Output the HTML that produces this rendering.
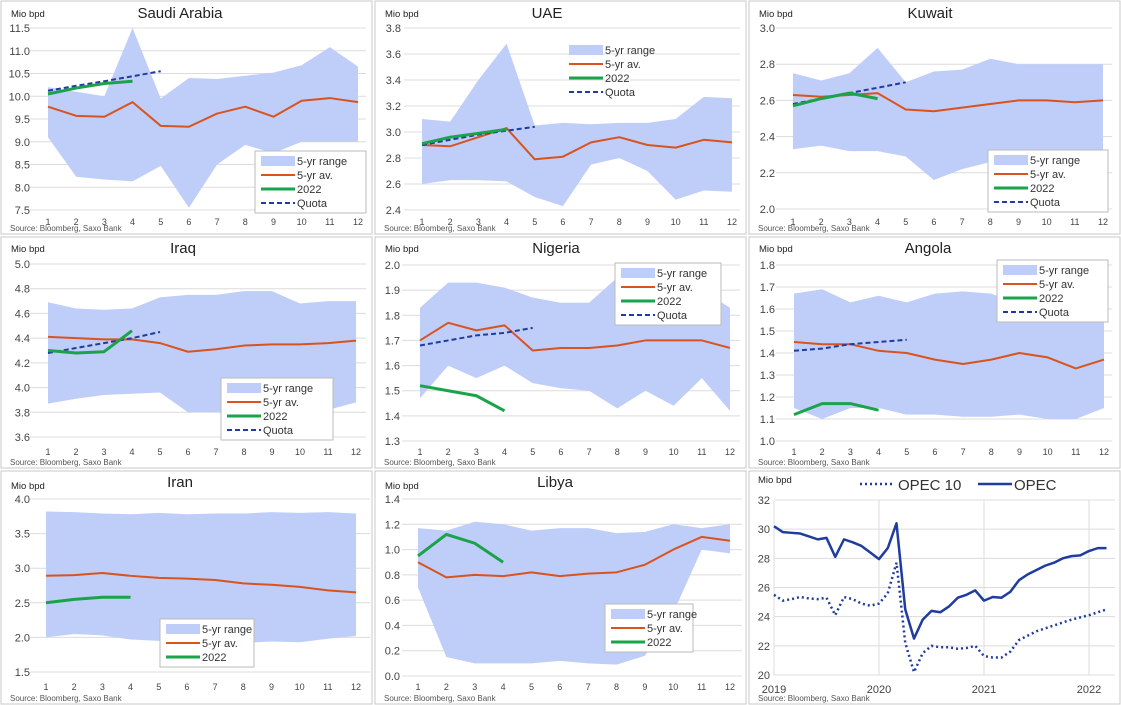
<!DOCTYPE html>
<html><head><meta charset="utf-8"><style>
body{margin:0;background:#fff;width:1121px;height:705px;overflow:hidden;font-family:"Liberation Sans",sans-serif}
svg{display:block}
</style></head><body>
<svg id="s" width="1121" height="705" xmlns="http://www.w3.org/2000/svg" font-family="Liberation Sans, sans-serif"></svg>
<script>
const S=document.getElementById('s');let h='';
const FILL='#bfcdf9',OR='#d9531e',GR='#1aa34a',NV='#1f3c9e';
[[1,1,371,233],[375,1,371,233],[749,1,371,233],[1,237,371,231],[375,237,371,231],[749,237,371,231],[1,471,371,233],[375,471,371,233],[749,471,371,233]].forEach(r=>{h+=`<rect x="${r[0]}" y="${r[1]}" width="${r[2]}" height="${r[3]}" fill="none" stroke="#c8c8c8"/>`});
function panel(p){
 const X=i=>p.x1+(i-1)*(p.x12-p.x1)/11;
 const Y=v=>p.yt+(p.vt-v)*(p.yb-p.yt)/(p.vt-p.vb);
 for(let v=p.vb;v<=p.vt+1e-9;v+=p.step){const y=Y(v);h+=`<line x1="${p.gx0}" x2="${p.gx1}" y1="${y}" y2="${y}" stroke="#dcdcdc"/>`;
 h+=`<text x="${p.lx}" y="${y+4}" font-size="11" fill="#444" text-anchor="end">${v.toFixed(1)}</text>`;}
 for(let i=1;i<=12;i++)h+=`<text x="${X(i)}" y="${p.ty}" font-size="9" fill="#444" text-anchor="middle">${i}</text>`;
 let pts=p.up.map((v,i)=>X(i+1)+','+Y(v)).concat(p.lo.map((v,i)=>[X(i+1),Y(v)]).reverse().map(a=>a.join(',')));
 h+=`<polygon points="${pts.join(' ')}" fill="${FILL}"/>`;
 const line=(arr,c,w,d)=>{h+=`<polyline points="${arr.map((v,i)=>X(i+1)+','+Y(v)).join(' ')}" fill="none" stroke="${c}" stroke-width="${w}" ${d?'stroke-dasharray="'+d+'"':''} stroke-linejoin="round"/>`};
 line(p.av,OR,2);
 if(p.q)line(p.q,NV,2,'5,3');
 line(p.g,GR,3);
 h+=`<text x="${p.tx}" y="${p.tty}" font-size="15" fill="#222" text-anchor="middle">${p.t}</text>`;
 h+=`<text x="${p.mx}" y="${p.my}" font-size="9.5" fill="#222">Mio bpd</text>`;
 h+=`<text x="${p.mx-1}" y="${p.sy}" font-size="8" fill="#555">Source:  Bloomberg, Saxo Bank</text>`;
 const L=p.L;const n=p.q?4:3;
 if(L.b)h+=`<rect x="${L.x}" y="${L.y}" width="${L.w}" height="${n*14+6}" fill="#fff" stroke="#bbb"/>`;
 const items=[['5-yr range','r'],['5-yr av.',OR],['2022',GR],['Quota','q']].slice(0,n);
 items.forEach((it,k)=>{const yy=L.y+10+k*14;const sx=L.x+6;
  if(it[1]=='r')h+=`<rect x="${sx}" y="${yy-5}" width="34" height="10" fill="${FILL}"/>`;
  else if(it[1]=='q')h+=`<line x1="${sx}" x2="${sx+34}" y1="${yy}" y2="${yy}" stroke="${NV}" stroke-width="2" stroke-dasharray="5,3"/>`;
  else h+=`<line x1="${sx}" x2="${sx+34}" y1="${yy}" y2="${yy}" stroke="${it[1]}" stroke-width="${it[1]==GR?3:2}"/>`;
  h+=`<text x="${sx+36}" y="${yy+4}" font-size="11" fill="#333">${it[0]}</text>`;});
}
const r1={ty:225,tty:18,my:17,sy:231},r2={ty:455,tty:253,my:252,sy:465},r3={ty:690,tty:487,my:489,sy:701};
panel(Object.assign({t:'Saudi Arabia',tx:180,mx:11,x1:48,x12:358,yt:28,vt:11.5,yb:210,vb:7.5,step:0.5,gx0:30,gx1:366,lx:30,
 up:[10.2,10.1,10.0,11.5,9.95,10.4,10.38,10.45,10.52,10.68,11.08,10.65],lo:[9.1,8.23,8.17,8.13,8.47,7.55,8.5,8.93,8.75,9.0,9.0,9.0],
 av:[9.77,9.57,9.55,9.87,9.35,9.33,9.62,9.77,9.55,9.9,9.96,9.87],g:[10.05,10.18,10.28,10.33],q:[10.12,10.23,10.33,10.44,10.55],
 L:{x:255,y:151,w:111,b:1}},r1));
panel(Object.assign({t:'UAE',tx:547,mx:385,x1:422,x12:732,yt:28,vt:3.8,yb:210,vb:2.4,step:0.2,gx0:404,gx1:740,lx:401,
 up:[3.1,3.08,3.4,3.68,3.05,3.07,3.06,3.07,3.07,3.1,3.27,3.26],lo:[2.6,2.63,2.63,2.62,2.5,2.43,2.75,2.8,2.7,2.48,2.55,2.54],
 av:[2.9,2.89,2.96,3.03,2.79,2.81,2.92,2.96,2.9,2.88,2.94,2.92],g:[2.91,2.96,2.99,3.02],q:[2.9,2.94,2.98,3.01,3.04],
 L:{x:563,y:40,w:105,b:0}},r1));
panel(Object.assign({t:'Kuwait',tx:930,mx:759,x1:793,x12:1103,yt:28,vt:3.0,yb:209,vb:2.0,step:0.2,gx0:776,gx1:1112,lx:775,
 up:[2.75,2.71,2.75,2.89,2.7,2.76,2.77,2.83,2.8,2.8,2.8,2.8],lo:[2.33,2.35,2.32,2.32,2.29,2.16,2.22,2.26,2.24,2.2,2.26,2.27],
 av:[2.63,2.62,2.63,2.64,2.55,2.54,2.56,2.58,2.6,2.6,2.59,2.6],g:[2.57,2.61,2.64,2.61],q:[2.58,2.61,2.64,2.67,2.7],
 L:{x:988,y:150,w:120,b:1}},r1));
panel(Object.assign({t:'Iraq',tx:183,mx:11,x1:48,x12:356,yt:264,vt:5.0,yb:437,vb:3.6,step:0.2,gx0:30,gx1:366,lx:30,
 up:[4.69,4.64,4.63,4.64,4.73,4.75,4.75,4.78,4.78,4.68,4.7,4.7],lo:[3.87,3.91,3.94,3.95,3.96,3.8,3.8,3.78,3.8,3.8,3.82,3.88],
 av:[4.41,4.4,4.39,4.39,4.36,4.29,4.31,4.34,4.35,4.35,4.36,4.38],g:[4.3,4.28,4.29,4.46],q:[4.28,4.32,4.36,4.4,4.45],
 L:{x:221,y:378,w:112,b:1}},r2));
panel(Object.assign({t:'Nigeria',tx:556,mx:385,x1:420,x12:730,yt:265,vt:2.0,yb:441,vb:1.3,step:0.1,gx0:402,gx1:740,lx:400,
 up:[1.83,1.93,1.93,1.91,1.87,1.85,1.85,1.95,1.95,1.9,1.9,1.83],lo:[1.47,1.6,1.55,1.6,1.53,1.51,1.5,1.43,1.5,1.44,1.55,1.42],
 av:[1.7,1.77,1.74,1.76,1.66,1.67,1.67,1.68,1.7,1.7,1.7,1.67],g:[1.52,1.5,1.48,1.42],q:[1.68,1.7,1.72,1.73,1.75],
 L:{x:615,y:263,w:106,b:1}},r2));
panel(Object.assign({t:'Angola',tx:928,mx:759,x1:794,x12:1104,yt:265,vt:1.8,yb:441,vb:1.0,step:0.1,gx0:776,gx1:1112,lx:775,
 up:[1.67,1.69,1.63,1.66,1.63,1.67,1.68,1.67,1.62,1.62,1.6,1.55],lo:[1.15,1.1,1.15,1.15,1.12,1.12,1.11,1.11,1.12,1.1,1.1,1.15],
 av:[1.45,1.44,1.44,1.41,1.4,1.37,1.35,1.37,1.4,1.38,1.33,1.37],g:[1.12,1.17,1.17,1.14],q:[1.41,1.42,1.44,1.45,1.46],
 L:{x:997,y:260,w:111,b:1}},r2));
panel(Object.assign({t:'Iran',tx:180,mx:11,x1:46,x12:356,yt:499,vt:4.0,yb:672,vb:1.5,step:0.5,gx0:30,gx1:370,lx:30,
 up:[3.82,3.81,3.79,3.78,3.8,3.78,3.79,3.79,3.81,3.8,3.81,3.79],lo:[2.0,2.05,2.03,1.97,1.95,1.95,1.93,1.92,1.94,1.93,1.98,2.02],
 av:[2.89,2.9,2.93,2.89,2.86,2.85,2.83,2.78,2.76,2.73,2.68,2.65],g:[2.5,2.55,2.58,2.58],
 L:{x:160,y:619,w:94,b:1}},r3));
panel(Object.assign({t:'Libya',tx:555,mx:385,x1:418,x12:730,yt:499,vt:1.4,yb:676,vb:0.0,step:0.2,gx0:402,gx1:742,lx:400,
 up:[1.17,1.15,1.22,1.2,1.15,1.17,1.17,1.13,1.14,1.2,1.17,1.2],lo:[0.7,0.15,0.1,0.1,0.1,0.12,0.1,0.09,0.16,0.5,1.0,0.97],
 av:[0.9,0.78,0.8,0.79,0.82,0.79,0.81,0.82,0.88,1.0,1.1,1.07],g:[0.95,1.12,1.05,0.9],
 L:{x:605,y:604,w:88,b:1}},r3));
{const X=i=>774+i*8.75,Y=v=>500+(32-v)*(175/12);
 for(let v=20;v<=32;v+=2){h+=`<line x1="774" x2="1115" y1="${Y(v)}" y2="${Y(v)}" stroke="#dcdcdc"/><text x="770" y="${Y(v)+4}" font-size="11" fill="#444" text-anchor="end">${v}</text>`;}
 [0,12,24,36].forEach((m,k)=>{h+=`<line x1="${X(m)}" x2="${X(m)}" y1="500" y2="675" stroke="#dcdcdc"/><text x="${X(m)}" y="693" font-size="11" fill="#444" text-anchor="middle">${2019+k}</text>`;});
 const o=[30.2,29.8,29.75,29.7,29.5,29.3,29.4,28.1,29.3,29.1,28.85,28.4,27.95,28.7,30.4,24.5,22.5,23.8,24.4,24.3,24.7,25.3,25.5,25.8,25.1,25.35,25.3,25.7,26.5,26.9,27.2,27.5,27.7,28.0,28.15,28.2,28.5,28.7,28.7];
 const o10=[25.5,25.1,25.2,25.35,25.25,25.2,25.3,24.1,25.35,25.2,24.9,24.75,24.9,25.6,27.7,22.2,20.2,21.5,22.0,21.9,21.9,21.8,21.85,22.0,21.3,21.2,21.2,21.6,22.4,22.7,23.0,23.2,23.4,23.6,23.8,23.95,24.1,24.3,24.5];
 h+=`<polyline points="${o10.map((v,i)=>X(i)+','+Y(v)).join(' ')}" fill="none" stroke="${NV}" stroke-width="2.5" stroke-dasharray="2,3"/>`;
 h+=`<polyline points="${o.map((v,i)=>X(i)+','+Y(v)).join(' ')}" fill="none" stroke="${NV}" stroke-width="2.5" stroke-linejoin="round"/>`;
 h+=`<line x1="860" x2="893" y1="484" y2="484" stroke="${NV}" stroke-width="2.5" stroke-dasharray="2,3"/><text x="898" y="490" font-size="15" fill="#333">OPEC 10</text>`;
 h+=`<line x1="978" x2="1012" y1="484" y2="484" stroke="${NV}" stroke-width="2.5"/><text x="1014" y="490" font-size="15" fill="#333">OPEC</text>`;
 h+=`<text x="758" y="483" font-size="9.5" fill="#222">Mio bpd</text><text x="758" y="701" font-size="8" fill="#555">Source:  Bloomberg, Saxo Bank</text>`;}
S.innerHTML=h;
</script>
</body></html>
